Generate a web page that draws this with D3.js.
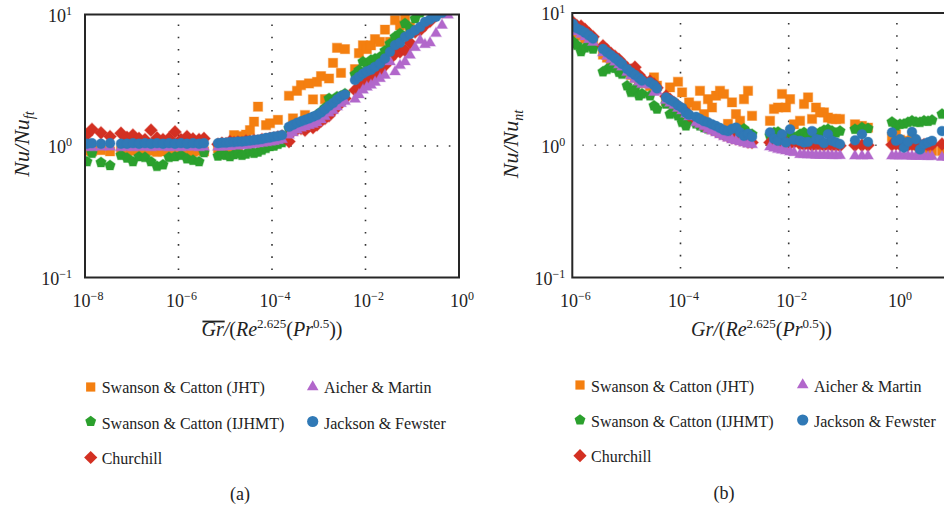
<!DOCTYPE html>
<html>
<head>
<meta charset="utf-8">
<script src="https://cdn.jsdelivr.net/npm/d3@7"></script>
<style>
  body { margin: 0; background: #fff; }
  svg { display: block; }
  svg text { font-family: "Liberation Serif", "DejaVu Serif", serif; }
</style>
</head>
<body>
<svg id="chart" width="944" height="511"></svg>
<script>
// ---- series labels (legend order) ----
const seriesNames = [
  "Swanson & Catton (JHT)",
  "Swanson & Catton (IJHMT)",
  "Churchill",
  "Aicher & Martin",
  "Jackson & Fewster"
];

// ---- axis tick exponents ----
const xTickExpA = [-8, -6, -4, -2, 0];
const xTickExpB = [-6, -4, -2, 0];
const yTickExp = [-1, 0, 1];

// ---- panel (a): Nu/Nu_ft against mean Gr/(Re^2.625 Pr^0.5) ----
const xA = [
  1.10e-8, 1.41e-8, 2.20e-8, 3.43e-8, 5.89e-8, 7.92e-8, 1.06e-7, 1.43e-7, 1.92e-7, 2.58e-7,
  3.47e-7, 4.66e-7, 6.26e-7, 8.41e-7, 1.13e-6, 1.52e-6, 2.04e-6, 2.75e-6, 3.51e-6,
  7.00e-6, 8.51e-6, 1.04e-5, 1.26e-5, 1.54e-5, 1.87e-5, 2.28e-5, 2.78e-5, 3.38e-5, 4.12e-5,
  5.02e-5, 6.11e-5, 7.45e-5, 9.06e-5, 1.10e-4, 1.34e-4, 1.64e-4,
  2.31e-4, 2.81e-4, 3.43e-4, 4.17e-4, 5.08e-4, 6.18e-4, 7.53e-4, 9.18e-4, 1.12e-3, 1.36e-3,
  1.66e-3, 2.02e-3, 2.46e-3, 2.99e-3, 3.64e-3,
  5.96e-3, 7.25e-3, 8.83e-3, 1.07e-2, 1.31e-2, 1.60e-2, 2.04e-2, 2.61e-2, 3.34e-2, 4.28e-2,
  5.47e-2, 7.00e-2, 8.95e-2, 0.115, 0.147, 0.187, 0.240, 0.322, 0.433, 0.582
];
const jhtA = [
  0.92, 0.91, 0.93, 0.91, 0.92, 0.90, 0.92, 0.91, 0.93, 0.92, 0.90, 0.91, 0.92, 0.93, 0.91, 0.92, 0.90, 0.92, 0.91,
  0.96, 0.97, 0.96, 0.98, 1.21, 0.97, 1.19, 1.22, 1.32, 1.53, 1.99, 1.04, 1.44, 1.49, 1.10, 1.58, 1.13,
  2.41, 1.62, 2.63, 2.90, 1.72, 2.99, 2.26, 3.07, 3.40, 2.27, 3.26, 4.29, 5.58, 3.60, 5.45,
  3.84, 5.08, 5.83, 5.45, 5.83, 6.50, 6.19, 7.68, 6.19, 9.05, 8.28, 9.60, 8.05, 11.0, 12.0, 12.6, 13.2, 14.0, 15.0, 16.0
];
const ijhmtA = [
  0.76, 0.88, 0.75, 0.71, 0.85, 0.81, 0.76, 0.83, 0.82, 0.76, 0.70, 0.72, 0.82, 0.83, 0.85, 0.80, 0.78, 0.76, 0.89,
  0.84, 0.86, 0.85, 0.83, 0.86, 0.88, 0.85, 0.87, 0.91, 0.88, 0.90, 0.93, 0.96, 0.99, 1.00, 1.03, 1.06,
  1.36, 1.42, 1.46, 1.52, 1.56, 1.60, 1.65, 1.72, 1.82, 1.95, 2.30, 2.20, 2.37, 2.40, 2.50,
  3.50, 3.77, 4.37, 4.20, 4.50, 4.60, 4.76, 5.30, 6.00, 6.76, 7.17, 8.53, 7.82, 9.30, 10.3, 10.8, 11.5, 12.0, 12.5, 13.0
];
const churchillA = [
  1.22, 1.34, 1.26, 1.18, 1.25, 1.16, 1.21, 1.14, 1.12, 1.32, 1.15, 1.12, 1.14, 1.28, 1.12, 1.18, 1.13, 1.12, 1.14,
  1.03, 1.05, 1.04, 1.08, 1.06, 1.07, 1.06, 1.09, 1.08, 1.10, 1.09, 1.12, 1.12, 1.14, 1.15, 1.17, 1.19,
  1.08, 1.30, 1.34, 1.36, 1.32, 1.42, 1.38, 1.45, 1.55, 1.62, 1.70, 1.85, 1.98, 2.15, 2.30,
  2.66, 2.74, 2.95, 3.10, 3.36, 3.40, 3.77, 4.10, 4.60, 5.05, 5.20, 5.34, 6.10, 7.37, 7.60, 8.28, 8.90, 9.90, 10.5, 11.2
];
const aicherA = [
  0.98, 0.97, 0.98, 0.98, 0.97, 0.98, 0.97, 0.98, 0.98, 0.97, 0.98, 0.98, 0.97, 0.98, 0.97, 0.98, 0.98, 0.97, 0.98,
  0.98, 0.98, 0.99, 0.99, 1.00, 1.00, 1.01, 1.01, 1.02, 1.03, 1.04, 1.05, 1.06, 1.07, 1.08, 1.10, 1.12,
  1.21, 1.26, 1.32, 1.37, 1.40, 1.43, 1.46, 1.50, 1.58, 1.67, 1.78, 1.86, 1.98, 2.10, 2.18,
  2.27, 2.45, 2.66, 2.80, 2.90, 3.05, 3.26, 3.45, 4.37, 3.66, 4.10, 4.37, 4.90, 5.60, 6.36, 5.90, 6.08, 7.17, 8.28, 9.90
];
const jacksonA = [
  1.04, 1.05, 1.04, 1.05, 1.04, 1.04, 1.05, 1.04, 1.05, 1.04, 1.05, 1.04, 1.05, 1.04, 1.05, 1.04, 1.05, 1.04, 1.05,
  1.05, 1.06, 1.06, 1.07, 1.07, 1.08, 1.08, 1.09, 1.10, 1.11, 1.12, 1.13, 1.15, 1.16, 1.18, 1.19, 1.21,
  1.40, 1.45, 1.50, 1.54, 1.58, 1.62, 1.67, 1.72, 1.80, 1.90, 2.02, 2.12, 2.26, 2.38, 2.46,
  3.17, 3.36, 3.55, 3.70, 3.80, 4.00, 4.24, 4.63, 5.20, 5.84, 6.10, 6.76, 7.10, 7.59, 8.04, 8.78, 9.15, 9.60, 10.3, 10.9
];

// ---- panel (b): Nu/Nu_nt against Gr/(Re^2.625 Pr^0.5) ----
const xB = [
  1.03e-6, 1.22e-6, 1.45e-6, 1.72e-6, 2.04e-6, 2.42e-6,
  3.69e-6, 4.38e-6, 5.19e-6, 6.15e-6, 7.29e-6, 8.30e-6,
  1.03e-5, 1.22e-5, 1.44e-5, 1.71e-5, 1.94e-5,
  2.73e-5, 3.24e-5, 3.68e-5,
  5.40e-5, 6.40e-5, 7.59e-5, 8.99e-5, 1.07e-4, 1.26e-4, 1.44e-4,
  1.94e-4, 2.29e-4, 2.72e-4, 3.22e-4, 3.82e-4, 4.53e-4, 5.37e-4, 6.37e-4, 7.55e-4, 8.95e-4,
  1.06e-3, 1.26e-3, 1.49e-3, 1.77e-3, 2.10e-3,
  4.51e-3, 5.35e-3, 6.34e-3, 7.52e-3, 8.91e-3, 1.06e-2, 1.25e-2,
  1.62e-2, 1.92e-2, 2.28e-2, 2.70e-2, 3.20e-2, 3.79e-2, 4.49e-2, 5.32e-2, 6.31e-2, 7.48e-2, 8.87e-2,
  0.168, 0.226, 0.292,
  0.811, 0.962, 1.14, 1.35, 1.60, 1.90, 2.25, 2.67, 3.17, 3.76, 4.46,
  6.82, 8.81
];
const jhtB = [
  7.6, 7.0, 6.7, 6.4, 6.1, 5.9,
  4.85, 4.60, 4.35, 4.15, 3.95, 3.80,
  3.60, 3.40, 3.25, 3.05, 2.95,
  2.80, 3.26, 2.82,
  2.15, 2.74, 2.05, 3.02, 2.51, 1.88, 2.11,
  1.99, 2.58, 1.72, 2.23, 1.93, 2.37, 2.58, 2.44, 1.45, 2.11, 1.72, 1.53, 2.23, 2.58, 1.67,
  1.53, 1.88, 1.93, 2.44, 1.93, 2.23, 1.44,
  1.53, 2.05, 2.30, 1.58, 1.93, 1.77, 1.77, 1.62, 1.58, 1.58, 1.58,
  1.44, 1.40, 1.36,
  1.15, 1.21, 1.10, 1.05, 1.08, 1.11, 1.00, 0.98, 0.96, 0.93, 0.905,
  0.905, 0.95
];
const ijhmtB = [
  6.08, 5.70, 5.10, 5.45, 5.68, 5.34,
  3.60, 3.75, 3.89, 3.82, 3.56, 3.45,
  2.82, 2.51, 2.66, 2.37, 2.45,
  2.37, 1.99, 1.88,
  2.05, 1.72, 1.90, 1.67, 1.49, 1.40, 1.55,
  1.45, 1.40, 1.36, 1.33, 1.36, 1.28, 1.25, 1.24, 1.22, 1.20, 1.28, 1.30, 1.33, 1.24, 1.21,
  1.18, 1.25, 1.26, 1.15, 1.12, 1.20, 1.14,
  1.21, 1.25, 1.18, 1.20, 1.22, 1.25, 1.30, 1.32, 1.28, 1.24, 1.28,
  1.32, 1.36, 1.34,
  1.50, 1.40, 1.44, 1.45, 1.49, 1.53, 1.50, 1.49, 1.53, 1.52, 1.55,
  1.72, 1.75
];
const churchillB = [
  8.5, 8.0, 7.95, 7.5, 7.0, 6.6,
  5.65, 5.25, 4.95, 4.70, 4.45, 4.20,
  3.85, 3.70, 3.89, 3.40, 3.20,
  3.05, 2.90, 2.72,
  2.35, 2.22, 2.10, 1.98, 1.88, 1.78, 1.68,
  1.56, 1.50, 1.42, 1.36, 1.32, 1.28, 1.24, 1.20, 1.17, 1.14, 1.12, 1.10, 1.08, 1.06, 1.05,
  1.05, 1.06, 1.08, 1.04, 1.05, 1.03, 1.05,
  1.02, 1.01, 1.02, 1.00, 1.01, 1.01, 1.00, 1.01, 1.00, 1.00, 0.99,
  1.00, 1.00, 1.00,
  1.01, 1.02, 1.01, 1.01, 1.00, 1.01, 1.00, 1.01, 1.01, 1.00, 1.01,
  1.02, 1.01
];
const aicherB = [
  7.9, 7.2, 6.9, 6.6, 6.3, 6.0,
  5.00, 4.70, 4.45, 4.25, 4.05, 3.90,
  3.55, 3.35, 3.15, 3.00, 2.88,
  2.85, 2.51, 2.55,
  2.18, 2.08, 2.00, 1.90, 1.82, 1.72, 1.64,
  1.48, 1.44, 1.38, 1.32, 1.28, 1.24, 1.20, 1.16, 1.13, 1.10, 1.08, 1.06, 1.04, 1.02, 1.01,
  0.97, 0.95, 0.93, 0.92, 0.905, 0.89, 0.88,
  0.85, 0.85, 0.845, 0.845, 0.84, 0.84, 0.84, 0.84, 0.835, 0.835, 0.835,
  0.83, 0.83, 0.83,
  0.83, 0.83, 0.83, 0.83, 0.83, 0.825, 0.825, 0.825, 0.825, 0.82, 0.82,
  0.81, 0.81
];
const jacksonB = [
  8.28, 7.65, 7.40, 7.10, 6.75, 6.40,
  5.35, 5.05, 4.80, 4.55, 4.30, 4.11,
  3.77, 3.56, 3.40, 3.22, 3.08,
  2.99, 2.85, 2.69,
  2.30, 2.20, 2.12, 2.00, 1.92, 1.76, 1.70,
  1.64, 1.58, 1.52, 1.49, 1.44, 1.40, 1.35, 1.30, 1.28, 1.33, 1.36, 1.25, 1.18, 1.22, 1.16,
  1.25, 1.12, 1.08, 1.21, 1.05, 1.32, 1.10,
  1.08, 1.05, 1.06, 1.28, 1.11, 1.10, 1.04, 1.21, 1.08, 1.05, 1.02,
  1.09, 1.21, 1.06,
  1.25, 1.08, 1.11, 0.96, 1.06, 1.26, 1.11, 0.93, 1.02, 1.05, 1.08,
  1.28, 1.25
];

// ---- styling ----
const FONT = '"Liberation Serif", "DejaVu Serif", serif';
const colors = ["#f47f10", "#2ba02d", "#d33022", "#b267cb", "#3079b6"];
const shapes = ["square", "pentagon", "diamond", "triangle", "circle"];
const markSize = { square: 9.2, pentagon: 5.5, diamond: 6.4, triangle: 10.8, circle: 4.9 };
const legendSize = { square: 9.2, pentagon: 5.7, diamond: 6.6, triangle: 11.6, circle: 5.6 };

function shapePath(kind, s) {
  switch (kind) {
    case "square":
      return `M${-s / 2},${-s / 2}h${s}v${s}h${-s}Z`;
    case "circle":
      return `M${s},0A${s},${s} 0 1,1 ${-s},0A${s},${s} 0 1,1 ${s},0Z`;
    case "diamond":
      return `M0,${-s}L${s},0L0,${s}L${-s},0Z`;
    case "triangle": {
      const h = s * Math.sqrt(3) / 2;
      return `M0,${-2 * h / 3}L${s / 2},${h / 3}L${-s / 2},${h / 3}Z`;
    }
    case "pentagon": {
      const pts = d3.range(5).map(k => {
        const a = -Math.PI / 2 + k * 2 * Math.PI / 5;
        return [s * Math.cos(a), s * Math.sin(a)];
      });
      return "M" + pts.map(p => p.join(",")).join("L") + "Z";
    }
  }
}

const svg = d3.select("#chart").attr("font-family", FONT);

const panels = [
  {
    id: "a", x: xA, ys: [jhtA, ijhmtA, churchillA, aicherA, jacksonA],
    left: 85, right: 459, top: 14.5, bottom: 277.5,
    xDomain: [1e-8, 1], xTicks: xTickExpA, gridX: [-6, -4, -2],
    yLabelX: 28.5, yLabelSub: "ft", yTickDx: -13,
    titleX: 272, overline: true, caption: "(a)", captionX: 240, captionY: 500,
    legend: { mx: [90.7, 312.7], tx: [101.7, 324], my: [387, 421.5, 457.5], ty: [393, 428.5, 464] },
    hGridColor: "#333"
  },
  {
    id: "b", x: xB, ys: [jhtB, ijhmtB, churchillB, aicherB, jacksonB],
    left: 572.3, right: 951, top: 13, bottom: 277.5,
    xDomain: [1e-6, 1e1], xTicks: xTickExpB, gridX: [-4, -2, 0],
    yLabelX: 518, yLabelSub: "nt", yTickDx: -7,
    titleX: 761.5, overline: false, caption: "(b)", captionX: 724, captionY: 499,
    legend: { mx: [580, 802.7], tx: [591, 814], my: [385, 420, 455.7], ty: [391.5, 426.5, 461.5] },
    hGridColor: "#666"
  }
];

// legend slot for each series: [column, row]
const legendSlots = [[0, 0], [0, 1], [0, 2], [1, 0], [1, 1]];

function supLabel(sel, exp, base, sup) {
  sel.text(null);
  sel.append("tspan").attr("font-size", base).text("10");
  sel.append("tspan").attr("font-size", sup).attr("dy", -7)
    .text(String(exp).replace("-", "\u2212"));
}

panels.forEach(p => {
  const x = d3.scaleLog().domain(p.xDomain).range([p.left, p.right]);
  const y = d3.scaleLog().domain([0.1, 10]).range([p.bottom, p.top]);
  const g = svg.append("g").attr("class", "panel-" + p.id);

  // dotted grid lines
  g.selectAll("line.vgrid").data(p.gridX).join("line")
    .attr("class", "vgrid")
    .attr("x1", d => x(Math.pow(10, d))).attr("x2", d => x(Math.pow(10, d)))
    .attr("y1", p.top + 10).attr("y2", p.bottom)
    .attr("stroke", "#333").attr("stroke-width", 1.6)
    .attr("stroke-dasharray", "1.6,10.6");
  g.append("line")
    .attr("x1", p.left + 10).attr("x2", p.right)
    .attr("y1", y(1)).attr("y2", y(1))
    .attr("stroke", p.hGridColor).attr("stroke-width", 1.6)
    .attr("stroke-dasharray", "1.6,10.6");

  // markers
  const clipId = "clip-" + p.id;
  svg.append("defs").append("clipPath").attr("id", clipId)
    .append("rect").attr("x", p.left).attr("y", p.top)
    .attr("width", p.right - p.left).attr("height", p.bottom - p.top);
  const pts = g.append("g").attr("clip-path", `url(#${clipId})`);
  p.ys.forEach((vals, si) => {
    const kind = shapes[si];
    const path = shapePath(kind, markSize[kind]);
    pts.append("g").selectAll("path")
      .data(p.x.map((xv, i) => [xv, vals[i]]))
      .join("path")
      .attr("d", path)
      .attr("transform", d => `translate(${x(d[0])},${y(d[1])})`)
      .attr("fill", colors[si])
      .attr("stroke", colors[si])
      .attr("stroke-opacity", 0.35)
      .attr("stroke-width", 1.2);
  });

  // frame
  g.append("rect")
    .attr("x", p.left).attr("y", p.top)
    .attr("width", p.right - p.left).attr("height", p.bottom - p.top)
    .attr("fill", "none").attr("stroke", "#262626").attr("stroke-width", 2);

  // x axis labels
  const xAxis = d3.axisBottom(x)
    .tickValues(p.xTicks.map(e => Math.pow(10, e)))
    .tickSize(0).tickFormat("");
  const gx = g.append("g").attr("transform", `translate(0,${p.bottom})`).call(xAxis)
    .attr("font-family", FONT).attr("font-size", 18);
  gx.select(".domain").remove();
  gx.selectAll(".tick text")
    .attr("y", 29.5).attr("dy", null).attr("dx", 2.5)
    .attr("fill", "#222").attr("font-family", FONT)
    .each(function (d, i) { supLabel(d3.select(this), p.xTicks[i], 18, 12); });

  // y axis labels
  const yAxis = d3.axisLeft(y)
    .tickValues(yTickExp.map(e => Math.pow(10, e)))
    .tickSize(0).tickFormat("");
  const gy = g.append("g").attr("transform", `translate(${p.left},0)`).call(yAxis)
    .attr("font-family", FONT).attr("font-size", 18);
  gy.select(".domain").remove();
  gy.selectAll(".tick text")
    .attr("x", p.yTickDx).attr("dy", "0.38em")
    .attr("fill", "#222").attr("font-family", FONT)
    .each(function (d, i) { supLabel(d3.select(this), yTickExp[i], 18, 12); });

  // y axis title
  const yl = g.append("text")
    .attr("transform", `translate(${p.yLabelX},144) rotate(-90)`)
    .attr("text-anchor", "middle").attr("fill", "#222").attr("font-family", FONT)
    .attr("font-size", 22).attr("font-style", "italic");
  yl.append("tspan").text("Nu/Nu");
  yl.append("tspan").attr("font-size", 14).attr("dy", 5).text(p.yLabelSub);

  // x axis title
  const xt = g.append("text")
    .attr("x", p.titleX).attr("y", 336).attr("font-family", FONT)
    .attr("text-anchor", "middle").attr("fill", "#222").attr("font-size", 20);
  xt.append("tspan").attr("font-style", "italic").text("Gr/");
  xt.append("tspan").text("(");
  xt.append("tspan").attr("font-style", "italic").text("Re");
  xt.append("tspan").attr("font-size", 13).attr("dy", -8).text("2.625");
  xt.append("tspan").attr("dy", 8).text("(");
  xt.append("tspan").attr("font-style", "italic").text("Pr");
  xt.append("tspan").attr("font-size", 13).attr("dy", -8).text("0.5");
  xt.append("tspan").attr("dy", 8).text("))");
  if (p.overline) {
    const node = xt.node();
    const x0 = node.getStartPositionOfChar(0).x;
    const x1 = node.getEndPositionOfChar(1).x;
    g.append("line")
      .attr("x1", x0 + 1).attr("x2", x1 + 1)
      .attr("y1", 321.5).attr("y2", 321.5)
      .attr("stroke", "#222").attr("stroke-width", 1.8);
  }

  // legend
  const lg = g.append("g").attr("class", "legend");
  seriesNames.forEach((name, si) => {
    const [c, r] = legendSlots[si];
    const kind = shapes[si];
    lg.append("path")
      .attr("d", shapePath(kind, legendSize[kind]))
      .attr("transform", `translate(${p.legend.mx[c]},${p.legend.my[r]})`)
      .attr("fill", colors[si]);
    lg.append("text")
      .attr("x", p.legend.tx[c]).attr("y", p.legend.ty[r])
      .attr("font-size", 16).attr("fill", "#222").attr("font-family", FONT)
      .text(name);
  });

  // panel caption
  g.append("text")
    .attr("x", p.captionX).attr("y", p.captionY).attr("font-family", FONT)
    .attr("text-anchor", "middle").attr("font-size", 18).attr("fill", "#222")
    .text(p.caption);
});
</script>
</body>
</html>
